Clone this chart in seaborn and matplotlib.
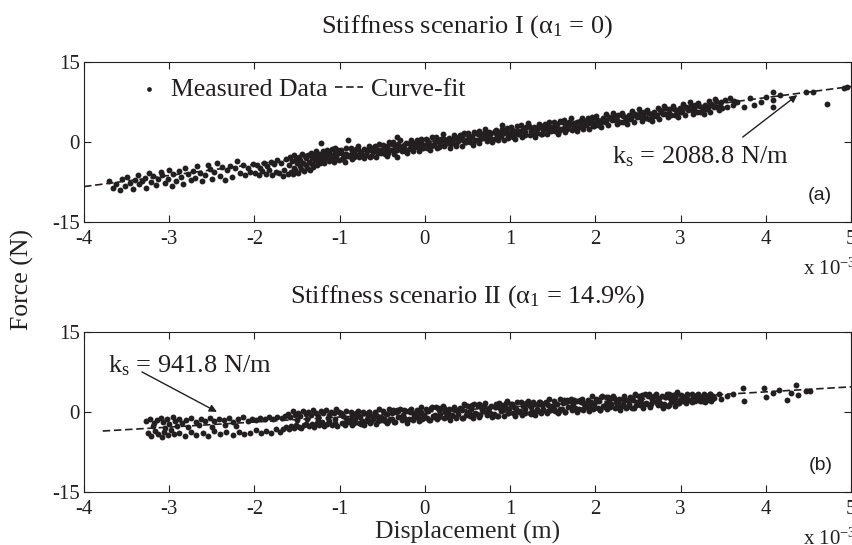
import matplotlib
matplotlib.use("Agg")
import matplotlib.pyplot as plt
import pandas as pd
import seaborn as sns

# Displacement in units of 1e-3 m, force in N

# Scenario I - measured points, grouped by region of the cloud
top_left = [
    (-3.71, -7.4), (-3.66, -8.6), (-3.62, -7.9), (-3.58, -9.1), (-3.55, -7.0), (-3.52, -8.2), (-3.49, -6.6), (-3.46, -7.7),
    (-3.43, -8.8), (-3.40, -7.1), (-3.37, -6.3), (-3.35, -8.0), (-3.32, -7.4), (-3.29, -6.8), (-3.27, -8.6), (-3.24, -5.9),
    (-3.21, -7.6), (-3.19, -6.5), (-3.16, -8.1), (-3.13, -7.0), (-3.10, -5.6), (-3.08, -6.3), (-3.05, -7.8), (-3.02, -6.9),
    (-3.00, -5.2), (-2.97, -8.3), (-2.95, -6.1), (-2.92, -7.3), (-2.89, -5.5), (-2.86, -6.6), (-2.84, -7.9), (-2.81, -4.9),
    (-2.78, -6.0), (-2.75, -7.2), (-2.72, -5.4), (-2.70, -6.7), (-2.67, -4.6), (-2.64, -5.8), (-2.61, -7.4), (-2.58, -6.2),
    (-2.55, -4.3), (-2.52, -5.1), (-2.50, -6.9), (-2.47, -5.6), (-2.44, -3.9), (-2.41, -6.4), (-2.38, -4.8), (-2.35, -7.1),
    (-2.32, -5.3), (-2.29, -4.5), (-2.26, -6.6), (-2.23, -5.0), (-2.20, -3.6), (-2.17, -5.9), (-2.14, -4.4), (-2.11, -6.3),
    (-2.08, -4.9), (-2.05, -5.7), (-2.02, -4.1),
    (-1.99, -5.8), (-1.97, -4.3), (-1.95, -6.2), (-1.93, -4.9), (-1.91, -5.5), (-1.89, -3.9), (-1.87, -6.0), (-1.85, -4.6),
    (-1.83, -5.3), (-1.81, -3.7), (-1.79, -6.3), (-1.77, -4.2), (-1.75, -5.6), (-1.73, -3.5), (-1.71, -5.9), (-1.69, -4.0),
    (-1.67, -6.4), (-1.65, -5.2), (-1.63, -3.3), (-1.61, -6.0),
]
top_hook = [
    (-1.59, -4.4), (-1.58, -2.8), (-1.57, -5.6), (-1.56, -3.6), (-1.55, -6.1), (-1.54, -4.9), (-1.53, -2.5), (-1.52, -5.3),
    (-1.51, -3.2), (-1.50, -4.0), (-1.49, -5.8), (-1.48, -2.9), (-1.47, -4.6), (-1.46, -3.4), (-1.45, -5.1), (-1.44, -2.2),
    (-1.43, -3.9), (-1.42, -5.5), (-1.41, -2.7), (-1.40, -4.3), (-1.39, -3.1), (-1.38, -4.9), (-1.37, -2.4), (-1.36, -3.7),
    (-1.35, -5.2), (-1.34, -2.0), (-1.33, -4.1), (-1.32, -3.0), (-1.31, -4.7), (-1.30, -2.5), (-1.29, -3.5), (-1.28, -1.8),
    (-1.27, -4.4), (-1.26, -2.9), (-1.25, -3.8), (-1.24, -2.2), (-1.23, -4.0), (-1.22, -0.3), (-1.21, -3.3), (-1.20, -2.6),
    (-1.19, -1.7), (-1.18, -3.9), (-1.17, -2.1), (-1.16, -3.1), (-1.15, -1.5), (-1.14, -2.8), (-1.13, -3.6), (-1.12, -1.9),
    (-1.11, -2.4), (-1.10, -3.3), (-1.09, -1.3), (-1.08, -2.7), (-1.07, -3.7), (-1.06, -2.0), (-1.05, -1.1), (-1.04, -3.0),
    (-1.03, -2.3), (-1.02, -1.6), (-1.01, -3.5),
]
top_core = [
    (-0.99, -1.5), (-0.97, -3.2), (-0.96, -2.2), (-0.94, -3.7), (-0.92, -1.1), (-0.91, -2.6), (-0.90, 0.3),
    (-0.89, -2.7), (-0.87, -1.1), (-0.86, -3.3), (-0.84, -1.8), (-0.82, -2.2), (-0.81, -1.4),
    (-0.79, -0.7), (-0.77, -2.9), (-0.76, -2.0), (-0.74, -2.4), (-0.72, -1.3), (-0.71, -3.1),
    (-0.69, -2.5), (-0.67, -1.5), (-0.66, -0.8), (-0.64, -2.8), (-0.62, -1.2), (-0.61, -1.9),
    (-0.59, -0.8), (-0.57, -2.8), (-0.56, -1.5), (-0.54, -0.4), (-0.52, -2.1), (-0.51, -1.6),
    (-0.49, -0.5), (-0.47, -2.2), (-0.46, -1.1), (-0.44, -2.6), (-0.42, -0.1), (-0.41, -1.6),
    (-0.39, -1.6), (-0.37, 0.0), (-0.36, -2.2), (-0.34, -0.7), (-0.32, -1.2), (-0.31, -0.4), (-0.33, 0.9), (-0.33, -2.9),
    (-0.29, 0.4), (-0.27, -1.8), (-0.26, -0.9), (-0.24, -1.3), (-0.22, -0.3), (-0.21, -2.1),
    (-0.19, -1.4), (-0.17, -0.4), (-0.16, 0.3), (-0.14, -1.7), (-0.12, -0.2), (-0.11, -0.9),
    (-0.09, 0.3), (-0.07, -1.7), (-0.06, -0.4), (-0.04, 0.6), (-0.02, -1.1), (-0.01, -0.6),
    (0.01, 0.6), (0.03, -1.1), (0.04, -0.1), (0.06, -1.6), (0.08, 0.9), (0.09, -0.6),
    (0.11, -0.6), (0.13, 1.0), (0.14, -1.2), (0.16, 0.3), (0.18, -0.2), (0.19, 0.6),
    (0.21, 1.4), (0.23, -0.8), (0.24, 0.1), (0.26, -0.3), (0.28, 0.7), (0.29, -1.1),
    (0.31, -0.4), (0.33, 0.6), (0.34, 1.3), (0.36, -0.7), (0.38, 0.8), (0.39, 0.1),
    (0.41, 1.3), (0.43, -0.7), (0.44, 0.6), (0.46, 1.6), (0.48, -0.1), (0.49, 0.4),
    (0.51, 1.6), (0.53, -0.1), (0.54, 0.9), (0.56, -0.6), (0.58, 1.9), (0.59, 0.4),
    (0.61, 0.4), (0.63, 2.0), (0.64, -0.2), (0.66, 1.3), (0.68, 0.8), (0.69, 1.6),
    (0.71, 2.4), (0.73, 0.2), (0.74, 1.1), (0.76, 0.7), (0.78, 1.7), (0.79, 0.0),
    (0.81, 0.6), (0.83, 1.6), (0.84, 2.3), (0.86, 0.3), (0.88, 1.8), (0.89, 1.1), (0.90, 3.2),
    (0.91, 2.4), (0.93, 0.4), (0.94, 1.6), (0.96, 2.6), (0.98, 1.0), (0.99, 1.5),
    (1.01, 2.7), (1.03, 1.0), (1.04, 2.0), (1.06, 0.5), (1.08, 3.0), (1.09, 1.5),
    (1.11, 1.5), (1.13, 3.1), (1.14, 0.9), (1.16, 2.4), (1.18, 1.9), (1.19, 2.7),
    (1.21, 3.5), (1.23, 1.3), (1.24, 2.2), (1.26, 1.8), (1.28, 2.8), (1.29, 1.0),
    (1.31, 1.7), (1.33, 2.7), (1.34, 3.4), (1.36, 1.4), (1.38, 2.9), (1.39, 2.2),
    (1.41, 3.4), (1.43, 1.4), (1.44, 2.7), (1.46, 3.7), (1.48, 2.0), (1.49, 2.5),
    (1.51, 3.7), (1.53, 2.0), (1.54, 3.0), (1.56, 1.5), (1.58, 4.0), (1.59, 2.5),
    (1.61, 2.5), (1.63, 4.1), (1.64, 1.9), (1.66, 3.4), (1.68, 2.9), (1.69, 3.7),
    (1.71, 4.5), (1.73, 2.3), (1.74, 3.2), (1.76, 2.8), (1.78, 3.8), (1.79, 2.0),
    (1.81, 2.7), (1.83, 3.7), (1.84, 4.4), (1.86, 2.4), (1.88, 3.9), (1.89, 3.2),
    (1.91, 4.4), (1.93, 2.4), (1.94, 3.7), (1.96, 4.7), (1.98, 3.0), (1.99, 3.5),
]
top_core_mid = [
    (-0.98, -2.0), (-0.95, -2.8), (-0.93, -2.3), (-0.88, -2.4), (-0.85, -1.6), (-0.83, -2.9),
    (-0.78, -1.3), (-0.75, -2.1), (-0.73, -2.5), (-0.68, -1.8), (-0.65, -1.5), (-0.63, -2.7),
    (-0.58, -1.2), (-0.55, -2.0), (-0.53, -1.5), (-0.48, -1.6), (-0.45, -0.8), (-0.43, -2.1),
    (-0.38, -0.4), (-0.35, -1.2), (-0.33, -1.6), (-0.28, -0.9), (-0.25, -0.6), (-0.23, -1.8),
    (-0.18, -0.3), (-0.15, -1.1), (-0.13, -0.6), (-0.08, -0.7), (-0.05, 0.1), (-0.03, -1.2),
    (0.02, 0.4), (0.05, -0.4), (0.07, -0.8), (0.12, -0.1), (0.15, 0.2), (0.17, -1.0),
    (0.22, 0.5), (0.25, -0.3), (0.27, 0.2), (0.32, 0.1), (0.35, 0.9), (0.37, -0.4),
    (0.42, 1.2), (0.45, 0.4), (0.47, 0.0), (0.52, 0.8), (0.55, 1.1), (0.57, -0.2),
    (0.62, 1.4), (0.65, 0.6), (0.67, 1.1), (0.72, 1.0), (0.75, 1.8), (0.77, 0.5),
    (0.82, 2.1), (0.85, 1.3), (0.87, 0.9), (0.92, 1.6), (0.95, 1.9), (0.97, 0.7),
    (1.02, 2.2), (1.05, 1.4), (1.07, 1.9), (1.12, 1.8), (1.15, 2.6), (1.17, 1.3),
    (1.22, 2.9), (1.25, 2.1), (1.27, 1.7), (1.32, 2.4), (1.35, 2.7), (1.37, 1.5),
    (1.42, 3.0), (1.45, 2.2), (1.47, 2.7), (1.52, 2.6), (1.55, 3.4), (1.57, 2.1),
    (1.62, 3.7), (1.65, 2.9), (1.67, 2.5), (1.72, 3.3), (1.75, 3.6), (1.77, 2.4),
    (1.82, 3.9), (1.85, 3.1), (1.87, 3.6), (1.92, 3.5), (1.95, 4.3), (1.97, 3.0),
]
top_upper = [
    (2.01, 4.8), (2.03, 3.1), (2.05, 4.0), (2.07, 2.7), (2.09, 4.4), (2.02, 4.2), (2.06, 3.4),
    (2.11, 3.7), (2.13, 5.2), (2.15, 3.1), (2.17, 4.5), (2.19, 4.1), (2.12, 3.9), (2.16, 4.7),
    (2.21, 5.5), (2.23, 4.1), (2.25, 3.4), (2.27, 5.0), (2.29, 3.8), (2.22, 5.1), (2.26, 4.2),
    (2.31, 5.4), (2.33, 3.7), (2.35, 4.6), (2.37, 3.3), (2.39, 5.0), (2.32, 4.8), (2.36, 4.0),
    (2.41, 4.3), (2.43, 5.8), (2.45, 3.7), (2.47, 5.1), (2.49, 4.7), (2.42, 4.5), (2.46, 5.3),
    (2.51, 6.1), (2.53, 4.7), (2.55, 4.0), (2.57, 5.6), (2.59, 4.4), (2.52, 5.7), (2.56, 4.8),
    (2.61, 6.0), (2.63, 4.3), (2.65, 5.2), (2.67, 3.9), (2.69, 5.6), (2.62, 5.4), (2.66, 4.6),
    (2.71, 4.9), (2.73, 6.4), (2.75, 4.3), (2.77, 5.7), (2.79, 5.3), (2.72, 5.1), (2.76, 5.9),
    (2.81, 6.7), (2.83, 5.3), (2.85, 4.6), (2.87, 6.2), (2.89, 5.0), (2.82, 6.3), (2.86, 5.4),
    (2.91, 6.7), (2.93, 5.0), (2.95, 5.9), (2.97, 4.6), (2.99, 6.3), (2.92, 6.1), (2.96, 5.3),
    (3.01, 5.6), (3.03, 7.1), (3.05, 5.0), (3.07, 6.4), (3.09, 6.0), (3.02, 5.8), (3.06, 6.6),
    (3.11, 7.4), (3.13, 6.0), (3.15, 5.3), (3.17, 6.9), (3.19, 5.7), (3.12, 7.0), (3.16, 6.1),
    (3.21, 7.3), (3.23, 5.6), (3.25, 6.5), (3.27, 5.2), (3.29, 6.9), (3.22, 6.7), (3.26, 5.9),
    (3.31, 6.2), (3.33, 7.7), (3.35, 5.6), (3.37, 7.0), (3.39, 6.6), (3.32, 6.4), (3.36, 7.2),
    (3.41, 8.0), (3.43, 6.6), (3.45, 5.9), (3.47, 7.5), (3.49, 6.3), (3.42, 7.6), (3.46, 6.7),
]
top_tail = [
    (3.52, 7.8), (3.55, 6.6), (3.58, 8.3), (3.61, 7.0), (3.63, 7.6), (3.66, 7.5), (3.74, 6.6), (3.82, 8.2),
    (3.86, 6.9), (3.94, 7.5), (4.00, 8.5), (4.08, 9.4), (4.08, 7.9), (4.08, 6.6), (4.17, 8.8), (4.47, 9.4),
    (4.56, 9.4), (4.72, 7.2), (4.92, 10.1), (4.95, 10.4),
]

# Scenario II - measured points
bot_left = [
    (-3.27, -1.8), (-3.22, -1.3), (-3.18, -2.0), (-3.14, -1.5), (-3.10, -1.1), (-3.07, -1.9), (-3.03, -1.4), (-3.00, -2.2),
    (-2.96, -1.0), (-2.93, -1.7), (-2.89, -1.3), (-2.85, -2.0), (-2.80, -1.5), (-2.74, -1.2), (-2.69, -1.9), (-2.63, -1.4),
    (-2.58, -1.7), (-2.52, -1.1), (-2.47, -1.8), (-2.42, -1.3), (-2.36, -1.6), (-2.30, -1.2), (-2.25, -1.9), (-2.19, -1.4),
    (-2.13, -1.0), (-2.08, -1.7), (-2.03, -1.3), (-1.98, -1.5), (-1.93, -1.1), (-1.88, -1.4), (-1.83, -0.9), (-1.78, -1.3),
    (-1.73, -1.0), (-1.68, -1.2),
    (-3.25, -3.9), (-3.21, -4.5), (-3.17, -3.6), (-3.13, -4.2), (-3.09, -4.8), (-3.06, -3.8), (-3.02, -4.4), (-2.98, -3.5),
    (-2.94, -4.1), (-2.88, -3.9), (-2.82, -4.6), (-2.75, -3.7), (-2.68, -4.3), (-2.60, -3.9), (-2.55, -4.5), (-2.48, -3.6),
    (-2.40, -4.1), (-2.33, -3.8), (-2.25, -4.4), (-2.18, -3.7), (-2.12, -4.2), (-2.05, -3.9), (-1.98, -3.5), (-1.92, -4.0),
    (-1.86, -3.6), (-1.80, -3.9), (-1.75, -3.3), (-1.70, -3.7), (-1.66, -3.2),
    (-3.19, -2.7), (-3.05, -3.0), (-2.91, -2.6), (-2.78, -2.9), (-2.65, -2.4), (-2.50, -2.8), (-2.35, -2.5), (-2.22, -2.7),
]
bot_rise = [
    (-1.64, -0.8), (-1.61, -0.4), (-1.58, -1.0), (-1.55, 0.1), (-1.52, -0.5), (-1.49, -0.2), (-1.46, -0.8), (-1.43, 0.2),
    (-1.40, -0.4), (-1.37, 0.0), (-1.34, -0.6), (-1.31, 0.3), (-1.28, -0.2), (-1.25, -0.7), (-1.22, 0.1), (-1.19, -0.3),
    (-1.16, 0.4), (-1.13, -0.5), (-1.10, 0.0), (-1.07, -0.3), (-1.04, 0.5), (-1.01, -0.1),
    (-1.63, -2.9), (-1.60, -3.3), (-1.57, -2.6), (-1.54, -3.0), (-1.51, -2.4), (-1.48, -2.8), (-1.45, -3.1), (-1.42, -2.5),
    (-1.39, -2.2), (-1.36, -2.7), (-1.33, -2.3), (-1.30, -2.9), (-1.27, -2.1), (-1.24, -2.5), (-1.21, -1.9), (-1.18, -2.6),
    (-1.15, -2.2), (-1.12, -1.8), (-1.09, -2.4), (-1.06, -2.0), (-1.03, -2.6),
    (-1.50, -1.5), (-1.38, -1.3), (-1.26, -1.6), (-1.14, -1.1), (-1.05, -1.4),
]
bot_core = [
    (-0.99, -0.3), (-0.97, -2.1), (-0.96, -0.8), (-0.94, -2.5), (-0.92, 0.1), (-0.91, -1.7),
    (-0.89, -1.9), (-0.87, -0.1), (-0.86, -2.4), (-0.84, -0.5), (-0.82, -1.3), (-0.81, -0.2),
    (-0.79, 0.2), (-0.77, -2.1), (-0.76, -1.0), (-0.74, -1.7), (-0.72, -0.3), (-0.71, -2.4),
    (-0.69, -1.8), (-0.67, -0.5), (-0.66, 0.0), (-0.64, -2.1), (-0.62, -0.7), (-0.61, -1.4),
    (-0.59, -0.2), (-0.57, -2.2), (-0.56, -0.7), (-0.54, 0.5), (-0.52, -1.6), (-0.51, -1.0),
    (-0.49, 0.1), (-0.47, -1.7), (-0.46, -0.4), (-0.44, -2.1), (-0.42, 0.5), (-0.41, -1.3),
    (-0.39, -1.4), (-0.37, 0.4), (-0.36, -1.9), (-0.34, -0.1), (-0.32, -0.9), (-0.31, 0.2),
    (-0.29, 0.6), (-0.27, -1.6), (-0.26, -0.5), (-0.24, -1.2), (-0.22, 0.1), (-0.21, -2.0),
    (-0.19, -1.3), (-0.17, 0.0), (-0.16, 0.5), (-0.14, -1.6), (-0.12, -0.2), (-0.11, -0.9),
    (-0.09, 0.3), (-0.07, -1.7), (-0.06, -0.2), (-0.04, 1.0), (-0.02, -1.1), (-0.01, -0.5),
    (0.01, 0.6), (0.03, -1.2), (0.04, 0.1), (0.06, -1.6), (0.08, 1.0), (0.09, -0.8),
    (0.11, -0.9), (0.13, 0.9), (0.14, -1.4), (0.16, 0.4), (0.18, -0.4), (0.19, 0.7),
    (0.21, 1.1), (0.23, -1.1), (0.24, 0.0), (0.26, -0.7), (0.28, 0.6), (0.29, -1.5),
    (0.31, -0.8), (0.33, 0.5), (0.34, 1.0), (0.36, -1.1), (0.38, 0.3), (0.39, -0.4),
    (0.41, 0.8), (0.43, -1.2), (0.44, 0.3), (0.46, 1.5), (0.48, -0.6), (0.49, 0.0),
    (0.51, 1.1), (0.53, -0.7), (0.54, 0.6), (0.56, -1.1), (0.58, 1.5), (0.59, -0.3),
    (0.61, -0.4), (0.63, 1.4), (0.64, -0.9), (0.66, 0.9), (0.68, 0.1), (0.69, 1.2),
    (0.71, 1.6), (0.73, -0.6), (0.74, 0.5), (0.76, -0.2), (0.78, 1.1), (0.79, -1.0),
    (0.81, -0.4), (0.83, 1.0), (0.84, 1.5), (0.86, -0.7), (0.88, 0.8), (0.89, 0.1),
    (0.91, 1.3), (0.93, -0.8), (0.94, 0.8), (0.96, 2.0), (0.98, -0.2), (0.99, 0.5),
    (1.01, 1.5), (1.03, -0.3), (1.04, 1.0), (1.06, -0.7), (1.08, 1.9), (1.09, 0.1),
    (1.11, 0.0), (1.13, 1.8), (1.14, -0.5), (1.16, 1.3), (1.18, 0.5), (1.19, 1.6),
    (1.21, 2.0), (1.23, -0.2), (1.24, 0.9), (1.26, 0.2), (1.28, 1.5), (1.29, -0.6),
    (1.31, 0.1), (1.33, 1.4), (1.34, 1.9), (1.36, -0.2), (1.38, 1.2), (1.39, 0.5),
    (1.41, 1.7), (1.43, -0.3), (1.44, 1.2), (1.46, 2.4), (1.48, 0.3), (1.49, 0.9),
    (1.51, 2.0), (1.53, 0.2), (1.54, 1.5), (1.56, -0.2), (1.58, 2.4), (1.59, 0.6),
    (1.61, 0.5), (1.63, 2.3), (1.64, 0.0), (1.66, 1.8), (1.68, 1.0), (1.69, 2.1),
    (1.71, 2.5), (1.73, 0.3), (1.74, 1.4), (1.76, 0.7), (1.78, 2.0), (1.79, -0.1),
    (1.81, 0.6), (1.83, 1.9), (1.84, 2.4), (1.86, 0.3), (1.88, 1.7), (1.89, 1.0),
    (1.91, 2.2), (1.93, 0.2), (1.94, 1.7), (1.96, 2.9), (1.98, 0.8), (1.99, 1.4),
    (2.01, 2.5), (2.03, 0.7), (2.04, 2.0), (2.06, 0.3), (2.08, 2.9), (2.09, 1.1),
    (2.11, 1.0), (2.13, 2.8), (2.14, 0.5), (2.16, 2.3), (2.18, 1.5), (2.19, 2.6),
    (2.21, 3.0), (2.23, 0.8), (2.24, 1.9), (2.26, 1.2), (2.28, 2.5), (2.29, 0.4),
    (2.31, 1.1), (2.33, 2.4), (2.34, 2.9), (2.36, 0.8), (2.38, 2.2), (2.39, 1.5),
    (2.41, 2.7), (2.43, 0.7), (2.44, 2.2), (2.46, 3.4), (2.48, 1.3), (2.49, 1.9),
    (2.51, 3.0), (2.53, 1.2), (2.54, 2.5), (2.56, 0.8), (2.58, 3.4), (2.59, 1.6),
    (2.61, 1.5), (2.63, 3.3), (2.64, 1.0), (2.66, 2.8), (2.68, 2.0), (2.69, 3.0),
    (2.71, 3.4), (2.73, 1.2), (2.74, 2.3), (2.76, 1.6), (2.78, 2.9), (2.79, 0.8),
    (2.81, 1.5), (2.83, 2.8), (2.84, 3.3), (2.86, 1.2), (2.88, 2.6), (2.89, 1.9),
    (2.91, 3.1), (2.93, 1.1), (2.94, 2.6), (2.96, 3.7), (2.98, 1.7), (2.99, 2.3),
    (3.01, 3.1), (3.03, 2.0), (3.04, 2.8), (3.06, 1.7), (3.08, 3.3), (3.09, 2.2),
    (3.11, 2.2), (3.13, 3.3), (3.14, 1.9), (3.16, 3.0), (3.18, 2.5), (3.19, 3.2),
    (3.21, 3.4), (3.23, 2.1), (3.24, 2.8), (3.26, 2.4), (3.28, 3.1), (3.29, 1.9),
    (3.31, 2.3), (3.33, 3.1), (3.34, 3.4), (3.36, 2.1), (3.38, 3.0), (3.39, 2.6),
]
bot_core_mid = [
    (-0.98, -0.4), (-0.95, -2.0), (-0.93, -1.2), (-0.88, -1.6), (-0.85, -0.7), (-0.83, -2.1),
    (-0.78, -0.5), (-0.75, -2.2), (-0.73, 0.0), (-0.68, -1.3), (-0.65, 0.0), (-0.63, -1.7),
    (-0.58, -0.1), (-0.55, -1.7), (-0.53, -0.9), (-0.48, -1.3), (-0.45, -0.4), (-0.43, -1.8),
    (-0.38, -0.2), (-0.35, -1.9), (-0.33, 0.4), (-0.28, -0.9), (-0.25, 0.4), (-0.23, -1.3),
    (-0.18, 0.3), (-0.15, -1.3), (-0.13, -0.5), (-0.08, -0.9), (-0.05, 0.0), (-0.03, -1.4),
    (0.02, 0.2), (0.05, -1.5), (0.07, 0.8), (0.12, -0.5), (0.15, 0.8), (0.17, -0.9),
    (0.22, 0.7), (0.25, -0.9), (0.27, -0.1), (0.32, -0.5), (0.35, 0.4), (0.37, -1.0),
    (0.42, 0.6), (0.45, -1.1), (0.47, 1.2), (0.52, -0.1), (0.55, 1.2), (0.57, -0.5),
    (0.62, 1.1), (0.65, -0.5), (0.67, 0.3), (0.72, -0.1), (0.75, 0.8), (0.77, -0.6),
    (0.82, 1.0), (0.85, -0.7), (0.87, 1.6), (0.92, 0.3), (0.95, 1.6), (0.97, -0.2),
    (1.02, 1.4), (1.05, -0.2), (1.07, 0.6), (1.12, 0.2), (1.15, 1.1), (1.17, -0.3),
    (1.22, 1.3), (1.25, -0.4), (1.27, 1.9), (1.32, 0.6), (1.35, 1.9), (1.37, 0.2),
    (1.42, 1.8), (1.45, 0.2), (1.47, 1.0), (1.52, 0.6), (1.55, 1.5), (1.57, 0.1),
    (1.62, 1.7), (1.65, 0.0), (1.67, 2.3), (1.72, 1.0), (1.75, 2.3), (1.77, 0.6),
    (1.82, 2.2), (1.85, 0.6), (1.87, 1.4), (1.92, 1.0), (1.95, 1.9), (1.97, 0.5),
    (2.02, 2.1), (2.05, 0.4), (2.07, 2.7), (2.12, 1.4), (2.15, 2.7), (2.17, 1.0),
    (2.22, 2.6), (2.25, 1.0), (2.27, 1.8), (2.32, 1.4), (2.35, 2.3), (2.37, 0.9),
    (2.42, 2.5), (2.45, 0.8), (2.47, 3.1), (2.52, 1.8), (2.55, 3.1), (2.57, 1.4),
    (2.62, 3.0), (2.65, 1.4), (2.67, 2.2), (2.72, 1.7), (2.75, 2.6), (2.77, 1.2),
    (2.82, 2.8), (2.85, 1.1), (2.87, 3.4), (2.92, 2.1), (2.95, 3.4), (2.97, 1.7),
    (3.02, 3.0), (3.05, 2.0), (3.07, 2.5), (3.12, 2.3), (3.15, 2.9), (3.17, 2.0),
    (3.22, 3.0), (3.25, 2.0), (3.27, 3.3), (3.32, 2.6), (3.35, 3.4), (3.37, 2.4),
]
bot_tail = [
    (3.45, 3.4), (3.48, 2.4), (3.55, 3.0), (3.62, 3.3), (3.73, 4.5), (3.75, 2.0), (3.98, 4.5), (4.00, 2.8),
    (4.08, 3.6), (4.16, 4.1), (4.25, 2.3), (4.30, 3.5), (4.36, 5.0), (4.38, 3.2), (4.47, 4.0), (4.52, 3.9),
]

# Curve-fit end points
fit_a_disp = [-4.0, 5.0]
fit_a_force = [-8.4, 10.4]
fit_b_disp = [-3.78, 5.0]
fit_b_force = [-3.6, 4.7]

x_ticks = [-4, -3, -2, -1, 0, 1, 2, 3, 4, 5]
y_ticks = [-15, 0, 15]

INK = "#231f20"


def to_frame(*groups):
    pts = [p for g in groups for p in g]
    return pd.DataFrame(pts, columns=["disp", "force"])


def draw_panel(ax, df, fit_x, fit_y, title, tag):
    sns.scatterplot(data=df, x="disp", y="force", ax=ax, s=18, color=INK,
                    linewidth=0, label="Measured Data")
    sns.lineplot(x=fit_x, y=fit_y, ax=ax, color=INK, lw=1.2,
                 linestyle=(0, (4.5, 2.2)), label="Curve-fit")
    ax.set_xlim(-4, 5)
    ax.set_ylim(-15, 15)
    ax.set_xticks(x_ticks)
    ax.set_yticks(y_ticks)
    ax.set_xlabel("")
    ax.set_ylabel("")
    ax.tick_params(direction="in", top=True, right=True, length=5, width=0.8,
                   labelsize=15)
    ax.tick_params(axis="x", pad=6)
    ax.tick_params(axis="y", pad=3)
    for sp in ax.spines.values():
        sp.set_visible(True)
        sp.set_linewidth(0.8)
        sp.set_color(INK)
    ax.set_title(title, fontsize=19, pad=21)
    ax.text(0.96, 0.161, tag, transform=ax.transAxes, fontsize=14,
            family="Liberation Sans", ha="center", va="center")
    ax.text(0.9375, -0.33, r"x 10$^{-3}$", transform=ax.transAxes,
            fontsize=15, ha="left", va="baseline")


sns.set_theme(style="ticks")
plt.rcParams.update({
    "font.family": ["Liberation Serif", "DejaVu Serif"],
    "mathtext.fontset": "custom",
    "mathtext.rm": "Liberation Serif",
    "mathtext.it": "Liberation Serif:italic",
    "mathtext.bf": "Liberation Serif:bold",
    "axes.unicode_minus": False,
    "text.color": INK,
    "xtick.color": INK,
    "ytick.color": INK,
})

fig = plt.figure(figsize=(8.52, 5.45), dpi=100)
ax_a = fig.add_axes([0.0986, 0.5932, 0.9002, 0.2930])
ax_b = fig.add_axes([0.0986, 0.0978, 0.9002, 0.2930])

df_a = to_frame(top_left, top_hook, top_core, top_core_mid, top_upper, top_tail)
df_b = to_frame(bot_left, bot_rise, bot_core, bot_core_mid, bot_tail)

draw_panel(ax_a, df_a, fit_a_disp, fit_a_force,
           "Stiffness scenario I (α$_1$ = 0)", "(a)")
draw_panel(ax_b, df_b, fit_b_disp, fit_b_force,
           "Stiffness scenario II (α$_1$ = 14.9%)", "(b)")

# legend only on the top panel, one row, no frame
ax_a.legend(ncol=2, frameon=False, loc="upper left", bbox_to_anchor=(0.066, 0.9),
            borderaxespad=0, borderpad=0, handlelength=1.1, handletextpad=0.3,
            columnspacing=0.3, fontsize=18.5, scatterpoints=1, markerscale=0.8)
ax_b.get_legend().remove()

# stiffness annotations
arrow = dict(arrowstyle="-|>", color=INK, lw=1.0, mutation_scale=11, shrinkA=0, shrinkB=0)
ax_a.text(2.19, -4.0, r"k$_{\rm s}$ = 2088.8 N/m", fontsize=19, ha="left", va="baseline")
ax_a.annotate("", xy=(4.37, 8.8), xytext=(3.73, 0.9), arrowprops=arrow)
ax_b.text(-3.72, 7.5, r"k$_{\rm s}$ = 941.8 N/m", fontsize=19, ha="left", va="baseline")
ax_b.annotate("", xy=(-2.44, 0.0), xytext=(-3.32, 7.5), arrowprops=arrow)

ax_b.set_xlabel("Displacement (m)", fontsize=18.5)
ax_b.xaxis.set_label_coords(0.5, -0.185)
fig.text(22.5 / 852, 1 - 280 / 545, "Force (N)", rotation=90, fontsize=18.5,
         ha="center", va="center")

fig.savefig("out.png", dpi=100)
